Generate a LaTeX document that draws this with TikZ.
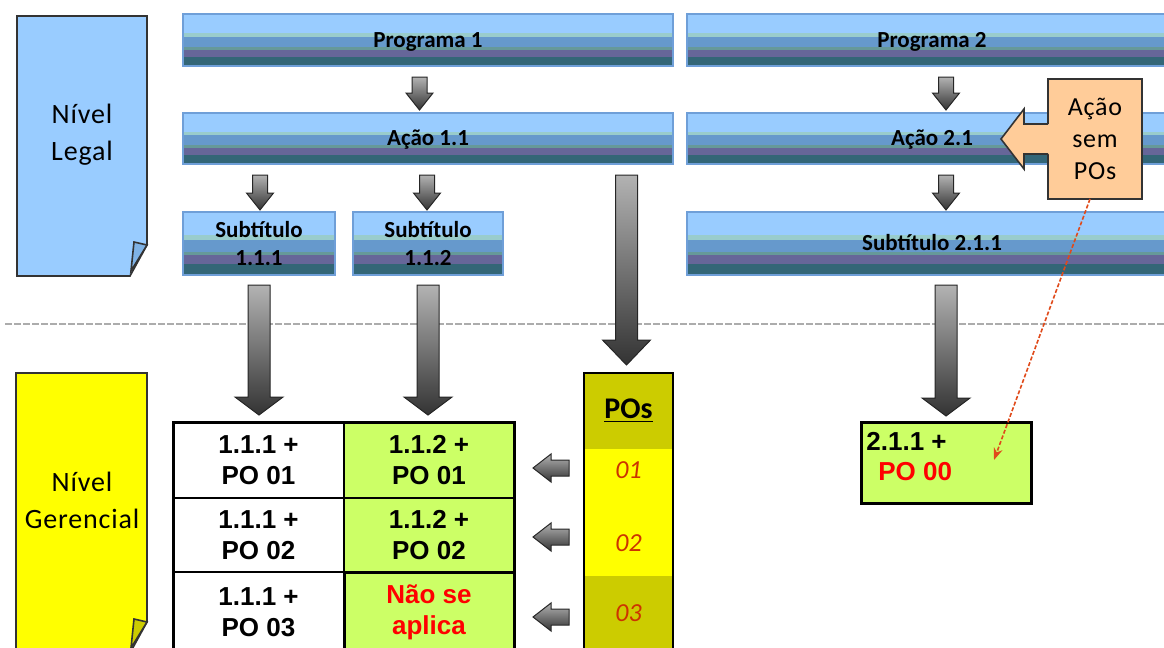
\documentclass[tikz,border=0pt]{standalone}
\usepackage{fontspec}
\setmainfont{Carlito}
\newfontfamily\docfont[LetterSpace=3]{Carlito}
\newfontfamily\tabfont{Liberation Sans}
\usetikzlibrary{calc,arrows.meta}

\definecolor{legalblue}{HTML}{99CCFF}
\definecolor{legalflap}{HTML}{7FB2E5}
\definecolor{gerenyellow}{HTML}{FFFF00}
\definecolor{gerenflap}{HTML}{CCCC00}
\definecolor{barA}{HTML}{99CCFF}
\definecolor{barB}{HTML}{99CCCC}
\definecolor{barC}{HTML}{6699CC}
\definecolor{barD}{HTML}{669999}
\definecolor{barE}{HTML}{666699}
\definecolor{barF}{HTML}{336677}
\definecolor{barframe}{HTML}{6F9FD8}
\definecolor{cellgreen}{HTML}{CCFF66}
\definecolor{poolive}{HTML}{CCCC00}
\definecolor{poyellow}{HTML}{FFFF00}
\definecolor{ponum}{HTML}{CC3300}
\definecolor{calloutfill}{HTML}{FFCC99}
\definecolor{linkred}{HTML}{E04A1A}

% fat block arrows: start, tip, half shaft, half head, head length
\newcommand{\fatdown}[5]{%
  \shadedraw[fatarrow] let \p1=#1, \p2=#2 in
    (\x1-#3,\y1) -- (\x1+#3,\y1) -- (\x1+#3,\y2+#5) -- (\x1+#4,\y2+#5)
    -- (\x1,\y2) -- (\x1-#4,\y2+#5) -- (\x1-#3,\y2+#5) -- cycle;}
\newcommand{\fatleft}[5]{%
  \shadedraw[fatarrow] let \p1=#1, \p2=#2 in
    (\x1,\y1+#3) -- (\x2+#5,\y1+#3) -- (\x2+#5,\y1+#4) -- (\x2,\y1)
    -- (\x2+#5,\y1-#4) -- (\x2+#5,\y1-#3) -- (\x1,\y1-#3) -- cycle;}

\begin{document}
\begin{tikzpicture}[x=0.5pt, y=-0.5pt,
  bar/.style={draw=barframe, line width=1pt, inner sep=0pt, outer sep=0pt,
              minimum height=26pt, align=center,
              font=\bfseries\fontsize{11.5}{14}\selectfont,
              path picture={
                \foreach \fa/\fb/\fc in {0/0.37/barA, 0.37/0.44/barB, 0.44/0.63/barC,
                                         0.63/0.69/barD, 0.69/0.83/barE, 0.83/1/barF}
                  \fill[\fc] let \p1=(path picture bounding box.north west),
                                 \p2=(path picture bounding box.south east) in
                    (\x1,{\y1+\fa*(\y2-\y1)}) rectangle (\x2,{\y1+\fb*(\y2-\y1)});}},
  barone/.style={bar, text height=9.5pt, text depth=2.5pt},
  docline/.style={draw=black!80, line width=0.8pt},
  doctext/.style={align=center, font=\docfont\fontsize{14}{18.5}\selectfont},
  fatarrow/.style={draw=black!85, line width=0.5pt, top color=black!30, bottom color=black!80},
  cell/.style={draw=black, line width=0.8pt, inner sep=0pt, outer sep=0pt,
               minimum width=85.5pt, align=center,
               font=\tabfont\bfseries\fontsize{13}{15.5}\selectfont},
  pocell/.style={inner sep=0pt, outer sep=0pt, minimum width=44.5pt},
  ponr/.style={text=ponum, font=\itshape\fontsize{13}{15}\selectfont},
  sepline/.style={draw=gray!65, line width=1pt, dash pattern=on 3.5pt off 1pt},
  linkline/.style={draw=linkred, line width=0.8pt, dash pattern=on 2pt off 1pt,
                   -{Stealth[length=6pt, width=4.5pt]}}
]
\useasboundingbox (0,0) rectangle (1164,648);
\clip (0,0) rectangle (1164,648);

%% ===== legal level =====
\filldraw[docline, fill=legalblue] (17,16) -- (147,16) -- (147,245) -- (130,276) -- (17,276) -- cycle;
\filldraw[docline, fill=legalflap] (147,245) -- (134,242) -- (131,271) -- cycle;
\node[doctext] (legal) at (82,135) {Nível\\Legal};

\node[barone, minimum width=245pt] (prog1) at (428,40) {Programa 1};
\node[barone, minimum width=245pt] (prog2) at (932,40) {Programa 2};
\node[barone, minimum width=245pt, minimum height=25.5pt] (acao1) at (428,138.5) {Ação 1.1};
\node[barone, minimum width=245pt, minimum height=25.5pt] (acao2) at (932,138.5) {Ação 2.1};
\node[bar, minimum width=76pt, minimum height=31.5pt] (sub111) at (259,243.5) {Subtítulo\\1.1.1};
\node[bar, minimum width=75pt, minimum height=31.5pt] (sub112) at (428,243.5) {Subtítulo\\1.1.2};
\node[barone, minimum width=245pt, minimum height=31.5pt] (sub211) at (932,243.5) {Subtítulo 2.1.1};

%% ===== divider =====
\draw[sepline] (5,324) -- (1164,324);

%% ===== managerial level =====
\filldraw[docline, fill=gerenyellow] (16,373) -- (147,373) -- (147,622) -- (130,653) -- (16,653) -- cycle;
\filldraw[docline, fill=gerenflap] (147,622) -- (134,619) -- (131,648) -- cycle;
\node[doctext] (gerencial) at (82,500) {Nível\\Gerencial};

% table of subtitle + PO
\node[cell, fill=white, minimum height=38pt] (c11) at (258.5,460) {1.1.1 +\\PO 01};
\node[cell, fill=cellgreen, minimum width=85pt, minimum height=38pt] (c12) at (429,460) {1.1.2 +\\PO 01};
\node[cell, fill=white, minimum height=37pt] (c21) at (258.5,535) {1.1.1 +\\PO 02};
\node[cell, fill=cellgreen, minimum width=85pt, minimum height=37pt] (c22) at (429,535) {1.1.2 +\\PO 02};
\node[cell, fill=white, minimum height=40pt] (c31) at (258.5,612) {1.1.1 +\\PO 03};
\node[cell, fill=cellgreen, minimum width=85pt, minimum height=40pt, line width=1.5pt,
      text=red] (c32) at (429,612) {Não se\\aplica};
\draw[line width=1.5pt] (c11.north west) rectangle (c32.south east);

% PO column
\node[pocell, fill=poolive, minimum height=38pt,
      font=\bfseries\fontsize{15}{17}\selectfont] (poshead) at (628.5,411) {\underline{POs}};
\node[pocell, fill=poyellow, minimum height=63.5pt] (poband) at (628.5,512.5) {};
\node[pocell, fill=poolive, minimum height=38pt] (pobot) at (628.5,614) {};
\node[ponr] (po01) at (628.5,470) {01};
\node[ponr] (po02) at (628.5,543) {02};
\node[ponr] (po03) at (628.5,613) {03};
\draw[line width=1pt] (poshead.north west) rectangle (pobot.south east);

% programme 2 result
\node[cell, fill=cellgreen, minimum width=85pt, minimum height=40.5pt, line width=1.5pt]
  (box211) at (946,462.5) {};
\node[anchor=north west, inner sep=0pt, align=left,
      font=\tabfont\bfseries\fontsize{13}{15}\selectfont]
  (txt211) at (866,432) {2.1.1 +\\\hspace{6pt}\textcolor{red}{PO 00}};

%% ===== block arrows =====
\fatdown{($(prog1.south)+(-8.5,11)$)}{($(acao1.north)+(-8.5,-3)$)}{3.75pt}{6.75pt}{8.5pt}
\fatdown{($(box211.north |- prog2.south)+(0,11)$)}{($(box211.north |- acao2.north)+(0,-3)$)}{3.75pt}{6.75pt}{8.5pt}
\fatdown{($(sub111.north |- acao1.south)+(1,11)$)}{($(sub111.north)+(1,-2)$)}{3.75pt}{6.75pt}{8.5pt}
\fatdown{($(sub112.north |- acao1.south)+(-1,11)$)}{($(sub112.north)+(-1,-2)$)}{3.75pt}{6.75pt}{8.5pt}
\fatdown{($(box211.north |- acao2.south)+(0,11)$)}{($(box211.north |- sub211.north)+(0,-2)$)}{3.75pt}{6.75pt}{8.5pt}

\fatdown{($(sub111.south)+(0,10)$)}{($(sub111.south |- c11.north)+(0,-7)$)}{5.5pt}{12pt}{9pt}
\fatdown{($(sub112.south)+(0,10)$)}{($(sub112.south |- c12.north)+(0,-7)$)}{5.5pt}{12pt}{9pt}
\fatdown{($(box211.north |- sub211.south)+(0,10)$)}{($(box211.north)+(0,-6)$)}{5.5pt}{12pt}{9pt}
\fatdown{($(poshead.north |- acao1.south)+(-2,11)$)}{($(poshead.north)+(-2,-8)$)}{5.5pt}{12pt}{12.5pt}

\fatleft{($(poshead.west |- po01)+(-15,-2)$)}{($(c12.east |- po01)+(19,-2)$)}{4pt}{7pt}{9pt}
\fatleft{($(poshead.west |- po02)+(-15,-6)$)}{($(c22.east |- po02)+(19,-6)$)}{4pt}{7pt}{9pt}
\fatleft{($(poshead.west |- po03)+(-15,4)$)}{($(c32.east |- po03)+(19,4)$)}{4pt}{7pt}{9pt}

%% ===== callout =====
\node[draw=black!80, line width=0.8pt, fill=calloutfill, inner sep=0pt, outer sep=0pt,
      minimum width=47pt, minimum height=60pt, align=center,
      font=\docfont\fontsize{13}{16}\selectfont] (semPO) at (1095,139) {Ação\\sem\\POs};
\fill[calloutfill] ($(semPO.west)+(2,-15)$) -- ++(-26,0) -- ++(0,-15) -- ++(-23,30)
  -- ++(23,30) -- ++(0,-15) -- ++(26,0) -- cycle;
\draw[black!80, line width=0.8pt, line join=miter] ($(semPO.west)+(0,-15)$) -- ++(-24,0) -- ++(0,-15)
  -- ++(-23,30) -- ++(23,30) -- ++(0,-15) -- ++(24,0);

\coordinate (hit) at (994,460);
\draw[linkline] ($(semPO.south)+(-5,0)$) -- (hit);

\end{tikzpicture}
\end{document}
